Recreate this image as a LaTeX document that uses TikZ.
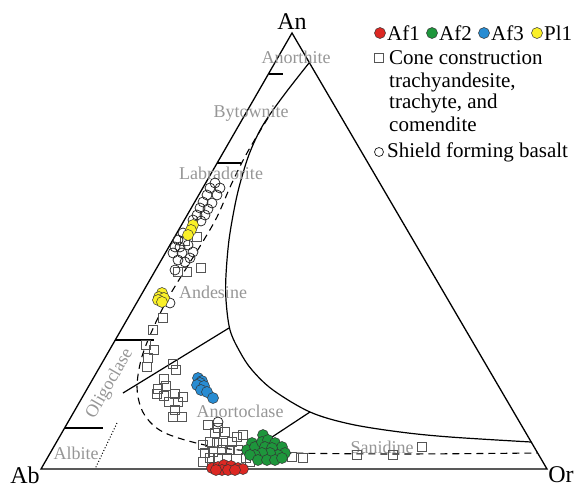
\documentclass[tikz,border=0pt]{standalone}
\usepackage{fontspec}
\setmainfont{Liberation Serif}
\definecolor{cred}{RGB}{220,40,35}
\definecolor{cgreen}{RGB}{30,150,60}
\definecolor{cblue}{RGB}{40,140,210}
\definecolor{cyellow}{RGB}{250,240,40}
\definecolor{cgraytext}{RGB}{150,150,150}
\definecolor{csq}{RGB}{85,85,85}
\begin{document}
\begin{tikzpicture}[x=1pt,y=-1pt,
  tri/.style={line width=1.3pt,line join=miter},
  solv/.style={line width=1.2pt},
  dcurve/.style={line width=1.1pt,dash pattern=on 7pt off 5pt},
  tick/.style={line width=1.1pt},
  dotl/.style={line width=1pt,dotted},
  vlab/.style={font=\fontsize{24}{26}\selectfont,inner sep=0pt},
  mlab/.style={font=\fontsize{18}{20}\selectfont,text=cgraytext,inner sep=0pt},
  leg/.style={font=\fontsize{21}{23}\selectfont,inner sep=0pt,anchor=west},
  opc/.style={draw=black!85,line width=0.75pt},
  osq/.style={draw=csq,line width=0.85pt},
  fdot/.style={draw=black!80,line width=0.5pt,fill=#1}
]
\useasboundingbox (0,0) rectangle (579,488);
\coordinate (Ab) at (41,469);
\coordinate (Or) at (547,469);
\coordinate (An) at (292,33);
% triangle
\draw[tri] (Ab) -- (Or) -- (An) -- cycle;
\node[vlab] (lAn) at (292,22) {An};
\node[vlab] (lAb) at (25,475) {Ab};
\node[vlab] (lOr) at (561,475) {Or};
% solvus curve
\draw[solv] plot[smooth,tension=0.55] coordinates {(309,63) (284,95) (263,125) (250,152) (241,180) (235,205) (229,240) (226,275) (226,300) (230,330) (240,352) (252,370) (273,390) (310,412) (350,424) (400,432) (450,437) (531,442)};
% straight boundaries
\draw[solv] (123,393) -- (229,328);
\draw[solv] (310,412) -- (266,441);
% dashed curve
\draw[dcurve] plot[smooth,tension=0.55] coordinates {(268,118) (247,153) (231,185) (217,217) (202,243) (187,267) (167,300) (151,333) (141,360) (137,387) (141,408) (150,422) (163,432) (185,440) (215,447) (250,451) (290,453) (400,454) (537,453)};
% ticks on Ab-An edge
\draw[tick] (268.5,74) -- (283,74);
\draw[tick] (217,163) -- (241,163);
\draw[tick] (115,340) -- (154,340);
\draw[tick] (65,428) -- (103,428);
\draw[dotl] (117,423) -- (95,469);
% mineral labels
\node[mlab] (nAnor) at (296,57) {Anorthite};
\node[mlab] (nByt) at (251,113) {Bytownite};
\node[mlab] (nLab) at (221,173) {Labradorite};
\node[mlab] (nAnd) at (213,292) {Andesine};
\node[mlab,rotate=60] (nOli) at (110,384) {Oligoclase};
\node[mlab] (nAlb) at (76,453) {Albite};
\node[mlab] (nAnt) at (240,411) {Anortoclase};
\node[mlab] (nSan) at (382,447) {Sanidine};
% open squares
\foreach \x/\y in {197/237,185/241,201/268,178/272,187/272,
  163/318,153/330,146/345,154/350,148/358,147/367,173/364,176/370,164/379,166/386,158/389,157/394,164/396,175/394,183/397,169/402,178/402,175/410,173/417,182/417,
  208/425,218/428,225/432,215/433,237/437,243/435,203/445,210/442,217/443,223/443,232/442,205/453,213/452,222/450,230/450,238/450,203/462,210/458,218/458,227/458,246/458,250/462,
  292/457,303/458,357/455,393/455,422/447}
  \draw[osq] (\x-4.5,\y-4.5) rectangle (\x+4.5,\y+4.5);
% open circles
\foreach \x/\y in {215/183,210/188,220/188,207/195,217/195,203/202,212/203,200/208,208/209,197/215,205/215,193/220,201/221,
  183/233,178/240,175/247,180/247,188/245,173/253,182/253,193/252,190/258,178/260,185/262,175/270,170/303,218/422}
  \draw[opc] (\x,\y) circle[radius=5pt];
% blue
\foreach \x/\y in {198/378,202/381,200/383,197/385,204/386,201/390,207/392,213/398}
  \draw[fdot=cblue] (\x,\y) circle[radius=5.5pt];
% yellow
\foreach \x/\y in {193/225,191/230,188/235,162/293,159/297,164/298,158/300,162/302}
  \draw[fdot=cyellow] (\x,\y) circle[radius=5.5pt];
% red
\foreach \x/\y in {212/468,218/467,224/465,231/466,238/468,243/469,222/470,228/470,216/470,235/470}
  \draw[fdot=cred] (\x,\y) circle[radius=5.5pt];
% green
\foreach \x/\y in {263/435,252/443,247/450,255/447,262/442,268/440,265/447,275/443,282/447,272/448,285/453,278/455,270/453,262/453,255/455,250/455,258/460,267/460,275/460,282/458}
  \draw[fdot=cgreen] (\x,\y) circle[radius=5.5pt];
% legend
\draw[fdot=cred] (380,33) circle[radius=5.5pt];
\node[leg] (tAf1) at (387,33) {Af1};
\draw[fdot=cgreen] (432,33) circle[radius=5.5pt];
\node[leg] (tAf2) at (439,33) {Af2};
\draw[fdot=cblue] (484,33) circle[radius=5.5pt];
\node[leg] (tAf3) at (491,33) {Af3};
\draw[fdot=cyellow] (537,33) circle[radius=5.5pt];
\node[leg] (tPl1) at (544,33) {Pl1};
\draw[osq] (374.5,53.5) rectangle (383.5,62.5);
\node[leg] (tC1) at (389,58) {Cone construction};
\node[leg] (tC2) at (389,82) {trachyandesite,};
\node[leg] (tC3) at (389,103) {trachyte, and};
\node[leg] (tC4) at (389,124) {comendite};
\draw[opc] (379,152) circle[radius=4.5pt];
\node[leg] (tS) at (387,152) {Shield forming basalt};
\end{tikzpicture}
\end{document}
